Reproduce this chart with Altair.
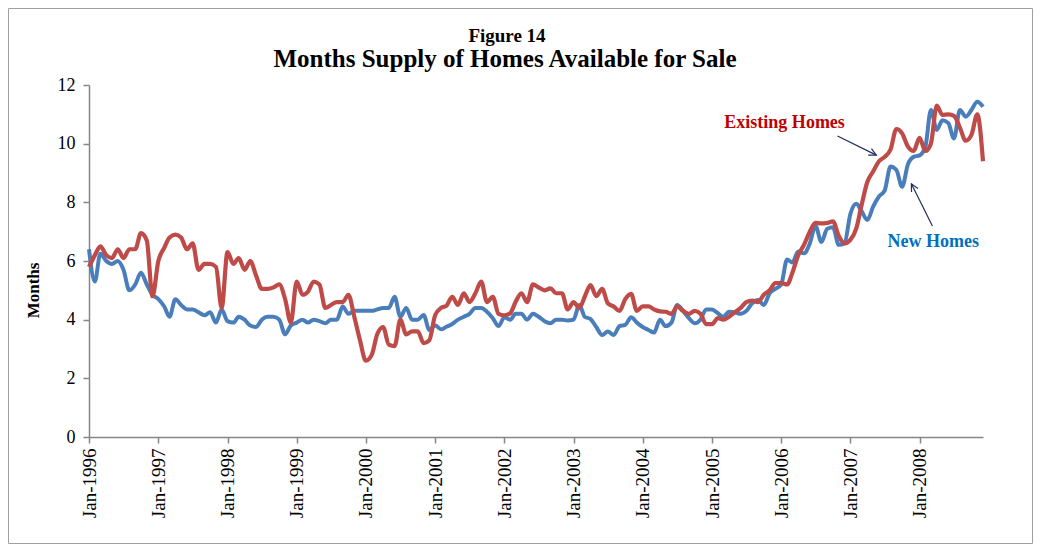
import altair as alt
import pandas as pd

# ---------------- data ----------------
months = pd.date_range("1996-01-01", periods=156, freq="MS").strftime("%Y-%m-%dT00:00:00").tolist()

new_homes = [
    6.4, 5.3, 6.25, 6.0, 5.9, 6.0, 5.7, 5.0, 5.2, 5.6,
    5.2, 4.85, 4.7, 4.45, 4.1, 4.7, 4.5, 4.35, 4.35, 4.25,
    4.15, 4.25, 3.9, 4.35, 3.95, 3.9, 4.1, 4.0, 3.8, 3.75,
    4.0, 4.1, 4.1, 4.0, 3.5, 3.8, 3.9, 4.0, 3.9, 4.0,
    3.95, 3.88, 4.0, 4.0, 4.45, 4.2, 4.3, 4.3, 4.3, 4.3,
    4.35, 4.4, 4.4, 4.78, 4.1, 4.4, 4.0, 4.0, 4.16, 3.65,
    3.8, 3.67, 3.76, 3.85, 4.0, 4.1, 4.2, 4.4, 4.4, 4.27,
    4.05, 3.78, 4.08, 4.0, 4.2, 4.2, 4.0, 4.2, 4.1, 3.95,
    3.88, 4.0, 4.0, 3.97, 4.0, 4.5, 4.1, 4.02, 3.75, 3.48,
    3.6, 3.48, 3.78, 3.82, 4.08, 3.9, 3.75, 3.65, 3.56, 4.0,
    3.78, 3.9, 4.5, 4.3, 4.05, 3.88, 4.0, 4.35, 4.35, 4.22,
    4.1, 4.27, 4.25, 4.2, 4.3, 4.56, 4.67, 4.5, 4.9, 5.05,
    5.2, 6.05, 5.95, 6.32, 6.26, 6.6, 7.2, 6.65, 7.1, 7.15,
    6.55, 6.6, 7.6, 7.95, 7.7, 7.4, 7.85, 8.2, 8.4, 9.22,
    9.1, 8.53, 9.3, 9.55, 9.6, 9.9, 11.15, 10.47, 10.8, 10.7,
    10.18, 11.15, 10.92, 11.15, 11.43, 11.26,
]

existing_homes = [
    5.8, 6.2, 6.5, 6.2, 6.1, 6.4, 6.1, 6.4, 6.4, 6.95,
    6.7, 4.8, 6.0, 6.45, 6.8, 6.9, 6.8, 6.4, 6.6, 5.7,
    5.9, 5.9, 5.8, 4.4, 6.3, 5.9, 6.1, 5.7, 6.0, 5.5,
    5.05, 5.05, 5.1, 5.2, 4.7, 3.9, 5.3, 4.85, 4.95, 5.3,
    5.2, 4.4, 4.5, 4.6, 4.6, 4.85, 4.1, 3.3, 2.6, 2.8,
    3.5, 3.75, 3.15, 3.1, 4.0, 3.5, 3.6, 3.6, 3.2, 3.3,
    4.16, 4.4, 4.47, 4.78, 4.5, 4.9, 4.6, 4.9, 5.3, 4.6,
    4.78, 4.2, 4.15, 4.22, 4.6, 4.9, 4.6, 5.2, 5.1, 5.0,
    5.07, 4.9, 4.9, 4.35, 4.6, 4.4, 4.78, 5.18, 4.8, 5.05,
    4.56, 4.45, 4.3, 4.7, 4.88, 4.3, 4.45, 4.45, 4.35, 4.28,
    4.27, 4.2, 4.45, 4.3, 4.2, 4.3, 4.2, 3.85, 3.85, 4.05,
    4.0, 4.1, 4.25, 4.4, 4.6, 4.65, 4.6, 4.85, 5.0, 5.25,
    5.25, 5.2, 5.6, 6.2, 6.55, 7.0, 7.3, 7.28, 7.3, 7.35,
    6.85, 6.6, 6.72, 7.1, 7.9, 8.7, 9.05, 9.4, 9.55, 9.8,
    10.5, 10.35, 9.9, 9.75, 10.2, 9.75, 10.0, 11.3, 10.98, 11.0,
    10.95, 10.55, 10.1, 10.3, 11.0, 9.4,
]

year_ticks = list(range(1996, 2009))
y_ticks = [0, 2, 4, 6, 8, 10, 12]

title_line1 = "Figure 14"
title_line2 = "Months Supply of Homes Available for Sale"

labels = ["Existing Homes", "New Homes"]
label_dates = ["2006-01-19T00:00:00", "2008-03-14T00:00:00"]
label_values = [10.7, 6.65]

arrow_start_dates = ["2006-10-25T00:00:00", "2008-03-09T00:00:00"]
arrow_start_values = [10.26, 7.19]
arrow_end_dates = ["2007-05-18T00:00:00", "2007-11-19T00:00:00"]
arrow_end_values = [9.61, 8.63]
arrow_angles = [116.6, 332.4]

# ---------------- styling ----------------
FONT = "Liberation Serif"
BLUE = "#4A7EBB"
RED = "#BE4B48"
AXIS_GRAY = "#868686"
ARROW = "#1F2F5F"

W, H = 894, 352

df_new = pd.DataFrame({"date": months, "value": new_homes})
df_ex = pd.DataFrame({"date": months, "value": existing_homes})
df_lab = pd.DataFrame({"label": labels, "date": label_dates, "value": label_values,
                       "color": ["#C00000", "#0070C0"]})
df_arrow = pd.DataFrame({"date": arrow_start_dates, "value": arrow_start_values,
                         "date2": arrow_end_dates, "value2": arrow_end_values})
df_head = pd.DataFrame({"date": arrow_end_dates, "value": arrow_end_values, "ang": arrow_angles})

x_scale = alt.Scale(domain=[alt.DateTime(year=1996, month=1, date=1),
                            alt.DateTime(year=2008, month=12, date=1)])
y_scale = alt.Scale(domain=[0, 12], nice=False, zero=True)

x_axis = alt.Axis(
    values=[alt.DateTime(year=y, month=1, date=1) for y in year_ticks],
    format="%b-%Y", labelAngle=-90, labelFont=FONT, labelFontSize=19,
    labelColor="black", labelPadding=5, labelFlush=False, labelOverlap=False,
    tickColor=AXIS_GRAY, tickSize=6, tickWidth=1.5,
    domainColor=AXIS_GRAY, domainWidth=1.5, grid=False,
)
y_axis = alt.Axis(
    values=y_ticks, labelFont=FONT, labelFontSize=18, labelColor="black",
    labelPadding=8, tickColor=AXIS_GRAY, tickSize=6, tickWidth=1.5,
    domainColor=AXIS_GRAY, domainWidth=1.5, grid=False,
    title="Months", titleFont=FONT, titleFontSize=17, titleFontWeight="bold",
    titleColor="black", titleX=-47, titleY=205,
)


def xenc():
    return alt.X("date:T", scale=x_scale, axis=x_axis, title=None)


def yenc():
    return alt.Y("value:Q", scale=y_scale, axis=y_axis)


frame = alt.Chart(pd.DataFrame({"k": [0]})).mark_rect(
    fill="white", fillOpacity=0, stroke="#A0A0A0", strokeWidth=1
).encode(x=alt.value(-80.5), x2=alt.value(W + 49.5), y=alt.value(-76.5), y2=alt.value(H + 106.5))

line_new = alt.Chart(df_new).mark_line(color=BLUE, strokeWidth=4, interpolate="monotone").encode(
    x=xenc(), y=yenc())
line_ex = alt.Chart(df_ex).mark_line(color=RED, strokeWidth=4.2, interpolate="monotone").encode(
    x=xenc(), y=yenc())

arrows = alt.Chart(df_arrow).mark_rule(color=ARROW, strokeWidth=1.2).encode(
    x=xenc(), y=yenc(), x2="date2:T", y2="value2:Q")
heads = alt.Chart(df_head).mark_point(
    shape="M-0.45,0.9L0,0L0.45,0.9", filled=False, stroke=ARROW, strokeWidth=1.2,
    size=260, opacity=1
).encode(x=xenc(), y=yenc(), angle=alt.Angle("ang:Q", scale=None))

ann = alt.Chart(df_lab).mark_text(font=FONT, fontSize=18, fontWeight="bold").encode(
    x=xenc(), y=yenc(), text="label:N", color=alt.Color("color:N", scale=None))

t1 = alt.Chart(pd.DataFrame({"t": [title_line1]})).mark_text(
    font=FONT, fontSize=19, fontWeight="bold", color="black", baseline="alphabetic"
).encode(x=alt.value(418), y=alt.value(-43), text="t:N")
t2 = alt.Chart(pd.DataFrame({"t": [title_line2]})).mark_text(
    font=FONT, fontSize=25, fontWeight="bold", color="black", baseline="alphabetic"
).encode(x=alt.value(416), y=alt.value(-18), text="t:N")

chart = alt.layer(frame, line_new, line_ex, arrows, heads, ann, t1, t2).properties(
    width=W, height=H,
    autosize=alt.AutoSizeParams(type="none"),
    padding={"left": 81, "top": 77, "right": 50, "bottom": 107},
    background="white",
).configure_view(stroke=None)

chart.save("out.html", embed_options={"renderer": "svg", "actions": False})
